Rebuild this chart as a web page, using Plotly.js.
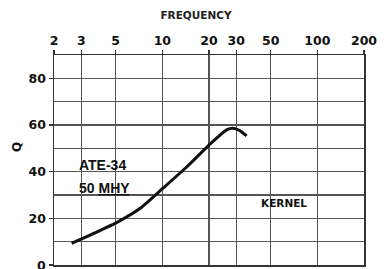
<!DOCTYPE html>
<html><head><meta charset="utf-8">
<script src="https://cdn.plot.ly/plotly-3.0.1.min.js"></script>
<style>html,body{margin:0;padding:0;background:#fff}</style>
</head><body>
<div id="chart" style="width:388px;height:269px"></div>
<script>
var freqTicks = [2, 3, 5, 10, 20, 30, 50, 100, 200];
var freqTickLabels = ['2', '3', '5', '10', '20', '30', '50', '100', '200'];
var qTicks = [0, 20, 40, 60, 80];
var qTickLabels = ['0', '20', '40', '60', '80'];
var curveFreq = [2.6, 3.07, 5.2, 7.2, 10.1, 14.4, 20, 26, 28.6, 31.6, 35];
var curveQ = [9.3, 11.4, 18.6, 24.3, 32.9, 42.1, 51.4, 57.9, 58.6, 57.6, 55.3];

var L = 54, R = 364, T = 55, B = 265;
function px(x){ return (x - L) / (R - L); }
function py(y){ return (B - y) / (B - T); }

var fontFam = 'DejaVu Sans, sans-serif';
var labFam = 'Liberation Sans, Arial, sans-serif';
var data = [{
  x: curveFreq, y: curveQ, type: 'scatter', mode: 'lines',
  line: {color: '#111', width: 3, shape: 'spline', smoothing: 0.6},
  hoverinfo: 'skip'
}];
var layout = {
  width: 388, height: 269,
  margin: {l: L, r: 388 - R, t: T, b: 269 - B, pad: 0},
  paper_bgcolor: '#fff', plot_bgcolor: '#fff',
  showlegend: false,
  title: {text: 'FREQUENCY', x: 196/388, xref: 'container', xanchor: 'center', y: 1 - 15/269, yref: 'container', yanchor: 'middle',
    font: {family: fontFam, size: 10.5, color: '#222', weight: 'bold'}},
  xaxis: {
    type: 'log', side: 'top', range: [Math.log10(2), Math.log10(200)],
    tickvals: freqTicks, ticktext: freqTickLabels,
    ticks: 'outside', ticklen: 4, tickwidth: 1.5, tickcolor: '#333',
    showgrid: true, gridcolor: '#555', gridwidth: 1.5,
    showline: true, linecolor: '#333', linewidth: 1.5, mirror: true,
    zeroline: false,
    tickfont: {family: fontFam, size: 12.5, color: '#111', weight: 'bold'}
  },
  yaxis: {
    range: [0, 90], tickvals: qTicks, ticktext: qTickLabels.map(function(t, i){ return i === 0 ? '' : t; }),
    ticks: 'outside', ticklen: 4, tickwidth: 1.5, tickcolor: '#333',
    showgrid: true, gridcolor: '#555', gridwidth: 1.5,
    minor: {dtick: 10, showgrid: true, gridcolor: '#555', gridwidth: 1.5, ticks: ''},
    showline: true, linecolor: '#333', linewidth: 1.5, mirror: true,
    zeroline: false,
    tickfont: {family: fontFam, size: 12.5, color: '#111', weight: 'bold'}
  },
  shapes: [
    {type: 'rect', xref: 'paper', yref: 'paper', x0: px(64), x1: px(137), y0: py(198), y1: py(155),
     layer: 'between', fillcolor: '#fff', line: {width: 0}},
    {type: 'rect', xref: 'paper', yref: 'paper', x0: px(241), x1: px(318), y0: py(218), y1: py(188),
     layer: 'between', fillcolor: '#fff', line: {width: 0}}
  ],
  annotations: [
    {text: qTickLabels[0], xref: 'paper', yref: 'y', x: px(48), y: qTicks[0], xanchor: 'right', yanchor: 'middle',
     showarrow: false, font: {family: fontFam, size: 12.5, color: '#111', weight: 'bold'}},
    {text: 'Q', xref: 'paper', yref: 'paper', x: px(17), y: py(147), xanchor: 'center', yanchor: 'middle',
     showarrow: false, textangle: -90,
     font: {family: fontFam, size: 12, color: '#111', weight: 'bold'}},
    {text: 'ATE-34', xref: 'paper', yref: 'paper', x: px(77), y: py(165),
     xanchor: 'left', yanchor: 'middle', showarrow: false,
     font: {family: labFam, size: 14, color: '#111', weight: 'bold'}},
    {text: '50 <u>MHY</u>', xref: 'paper', yref: 'paper', x: px(77), y: py(188),
     xanchor: 'left', yanchor: 'middle', showarrow: false,
     font: {family: labFam, size: 14, color: '#111', weight: 'bold'}},
    {text: 'KERNEL', xref: 'paper', yref: 'paper', x: px(284), y: py(203), xanchor: 'center', yanchor: 'middle',
     showarrow: false,
     font: {family: fontFam, size: 10.5, color: '#111', weight: 'bold'}}
  ]
};
Plotly.newPlot('chart', data, layout, {staticPlot: true, displayModeBar: false});
</script>
</body></html>
